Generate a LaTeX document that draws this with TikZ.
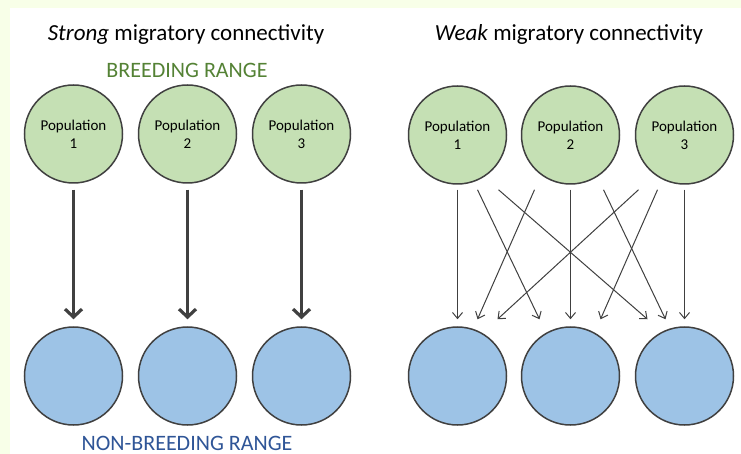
\documentclass[tikz,border=0pt]{standalone}
\usepackage{fontspec}
\setmainfont{Carlito}
\usepackage{xcolor}
\usetikzlibrary{positioning,arrows.meta,calc}

\definecolor{edgegray}{HTML}{404040}
\definecolor{breedfill}{HTML}{C5E0B4}
\definecolor{winterfill}{HTML}{9DC3E6}
\definecolor{breedtext}{HTML}{548235}
\definecolor{wintertext}{HTML}{2F5597}
\definecolor{framebg}{RGB}{248,255,232}

\begin{document}
\begin{tikzpicture}[
    x=1pt, y=-1pt,
    ring/.style={
        circle,
        draw=edgegray,
        line width=1.5pt,
        minimum size=98pt,
        inner sep=0pt,
        align=center,
        font=\fontsize{15}{18}\selectfont
    },
    breed/.style={ring, fill=breedfill},
    winter/.style={ring, fill=winterfill},
    heading/.style={anchor=base, font=\fontsize{23}{27}\selectfont},
    rangelabel/.style={anchor=base, font=\fontsize{22}{26}\selectfont},
    bigarr/.style={
        -{Straight Barb[length=8pt,width=17pt]},
        line width=3.2pt,
        draw=edgegray,
        shorten <=6pt,
        shorten >=7pt
    },
    thinarr/.style={
        -{Straight Barb[length=6pt,width=10pt]},
        line width=1pt,
        draw=edgegray
    }
]

% frame
\useasboundingbox (0,0) rectangle (741,454);
\fill[framebg] (0,0) rectangle (741,454);
\fill[white] (10,8) rectangle (741,454);

% strong connectivity
\node[heading] (stitle) at (186,41) {\textit{Strong} migratory connectivity};
\node[rangelabel, text=breedtext] (brange) at (187,78) {BREEDING RANGE};

\node[breed] (sb1) at (73.5,134) {Population\\1};
\node[breed] (sb2) at (187.5,134) {Population\\2};
\node[breed] (sb3) at (301.5,134) {Population\\3};

\node[winter] (sn1) at (73.5,376) {};
\node[winter] (sn2) at (187.5,376) {};
\node[winter] (sn3) at (301.5,376) {};

\node[rangelabel, text=wintertext] (nrange) at (187,450) {NON-BREEDING RANGE};

\draw[bigarr] (sb1) -- (sn1);
\draw[bigarr] (sb2) -- (sn2);
\draw[bigarr] (sb3) -- (sn3);

% weak connectivity
\node[heading] (wtitle) at (569,41) {\textit{Weak} migratory connectivity};

\node[breed] (wb1) at (457.5,135) {Population\\1};
\node[breed] (wb2) at (570.5,135) {Population\\2};
\node[breed] (wb3) at (684.5,135) {Population\\3};

\node[winter] (wn1) at (457.5,376) {};
\node[winter] (wn2) at (570.5,376) {};
\node[winter] (wn3) at (684.5,376) {};

\draw[thinarr] ($(wb1.south)+(0,5)$) -- ($(wn1.north)+(0,-7)$);
\draw[thinarr] ($(wb1.south)+(20,5)$) -- ($(wn2.north)+(-31,-7)$);
\draw[thinarr] ($(wb1.south)+(41,5)$) -- ($(wn3.north)+(-37,-7)$);

\draw[thinarr] ($(wb2.south)+(-36,5)$) -- ($(wn1.north)+(20,-7)$);
\draw[thinarr] ($(wb2.south)+(0,5)$) -- ($(wn2.north)+(0,-7)$);
\draw[thinarr] ($(wb2.south)+(33,5)$) -- ($(wn3.north)+(-19,-7)$);

\draw[thinarr] ($(wb3.south)+(-46,5)$) -- ($(wn1.north)+(40,-7)$);
\draw[thinarr] ($(wb3.south)+(-27,5)$) -- ($(wn2.north)+(30,-7)$);
\draw[thinarr] ($(wb3.south)+(0,5)$) -- ($(wn3.north)+(0,-7)$);

\end{tikzpicture}
\end{document}
